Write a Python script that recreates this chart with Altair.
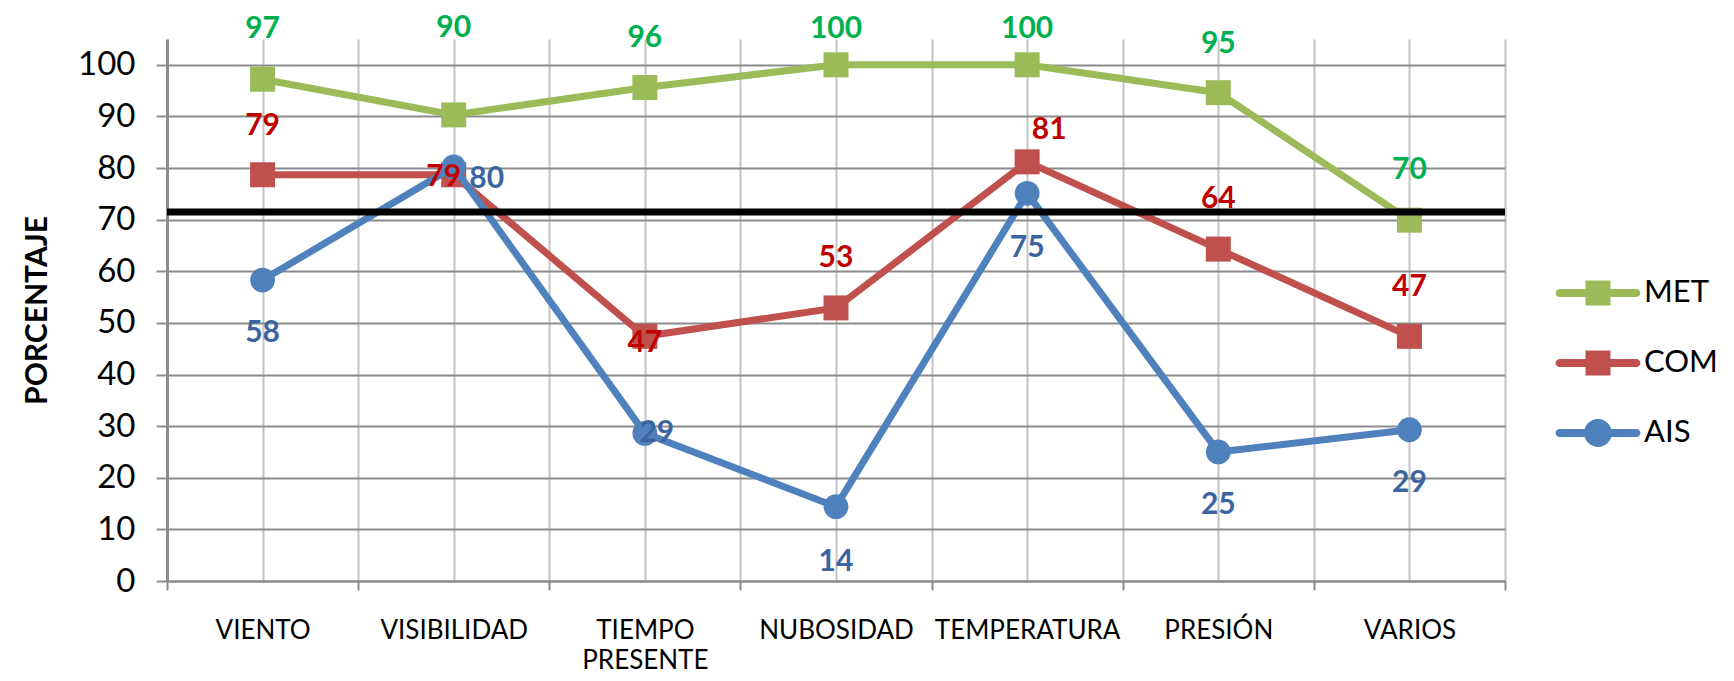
import json
import altair as alt
import pandas as pd

# ---------------- data ----------------
categories = ["VIENTO", "VISIBILIDAD", "TIEMPO PRESENTE", "NUBOSIDAD",
              "TEMPERATURA", "PRESIÓN", "VARIOS"]
series_names = ["MET", "COM", "AIS"]
met = [97.2, 90.3, 95.6, 100.0, 100.0, 94.6, 69.9]
com = [78.7, 78.7, 47.4, 52.9, 81.2, 64.3, 47.4]
ais = [58.3, 80.2, 28.6, 14.4, 75.1, 25.0, 29.3]
threshold = [71.5]
y_ticks = list(range(0, 101, 10))

# label offsets (pixels, relative to each marker)
met_dx = [0, 0, 0, 0, 0, 0, 0]
met_dy = [-50, -87, -50, -36, -36, -49, -50]
com_dx = [0, -10, 0, 0, 22, 0, 0]
com_dy = [-49, 2, 7, -50, -32, -50, -49]
ais_dx = [0, 33, 12, 0, 0, 0, 0]
ais_dy = [53, 12, 0, 55, 55, 53, 53]

# ---------------- style ----------------
line_colors = ["#9BBB59", "#C0504D", "#4F81BD"]
label_colors = ["#00B050", "#C00000", "#3B64A0"]
marker_shapes = ["square", "square", "circle"]
marker_sizes = [625, 625, 615]
FONT = "Lato"

bar = "M-1.6,-0.167 H1.6 A0.167,0.167 0 0,1 1.6,0.167 H-1.6 A0.167,0.167 0 0,1 -1.6,-0.167 Z"
sq = "M-0.52,-0.52 H0.52 V0.52 H-0.52 Z"
circ = "M-0.58,0 A0.58,0.58 0 1,1 0.58,0 A0.58,0.58 0 1,1 -0.58,0 Z"
legend_paths = [bar + " " + sq, bar + " " + sq, bar + " " + circ]

rows = []
for s, vals, dxs, dys in [("MET", met, met_dx, met_dy),
                          ("COM", com, com_dx, com_dy),
                          ("AIS", ais, ais_dx, ais_dy)]:
    for i, (c, v) in enumerate(zip(categories, vals)):
        rows.append({"idx": i, "cat": c, "series": s, "value": v,
                     "dx": dxs[i], "dy": dys[i]})
df = pd.DataFrame(rows)

label_lines = [c.split(" ") if " " in c else c for c in categories]
label_expr = ("datum.value % 1 === 0 ? " + json.dumps(label_lines, ensure_ascii=False)
              + "[datum.value] : ''")

x_values = [-0.5 + 0.5 * i for i in range(15)]

x_enc = alt.X(
    "idx:Q",
    scale=alt.Scale(domain=[-0.5, 6.5], nice=False, zero=False),
    axis=alt.Axis(
        values=x_values, grid=True, gridColor="#C4C4C4", gridWidth=2,
        domain=True, domainColor="#8C8C8C", domainWidth=2,
        ticks=True, tickSize=9, tickWidth=2, tickColor="#8C8C8C",
        tickOpacity={"condition": {"test": "datum.value % 1 !== 0", "value": 1}, "value": 0},
        labelExpr=label_expr, labelFont=FONT, labelFontSize=26, labelColor="black",
        labelPadding=27, labelLineHeight=30, labelOverlap=False, labelFlush=False,
        labelBound=False, labelLimit=0, title=None,
    ),
)
y_scale = alt.Scale(domain=[0, 105], nice=False, zero=True)
y_enc = alt.Y(
    "value:Q",
    scale=y_scale,
    axis=alt.Axis(
        values=y_ticks, grid=True, gridColor="#8C8C8C", gridWidth=2,
        domainColor="#8C8C8C", domainWidth=3,
        tickColor="#8C8C8C", tickSize=11, tickWidth=2,
        labelFont=FONT, labelFontSize=33, labelColor="black", labelPadding=21,
        title="PORCENTAJE", titleFont=FONT, titleFontSize=30, titleFontWeight="bold",
        titleColor="black", titleX=-130, titleY=271, titleAngle=270,
        titleAlign="center", titleBaseline="middle",
    ),
)

base = alt.Chart(df).encode(x=x_enc, y=y_enc)

layers = []
for s, lc, shp, sz in zip(series_names, line_colors, marker_shapes, marker_sizes):
    sub = base.transform_filter(alt.datum.series == s)
    layers.append(sub.mark_line(color=lc, strokeWidth=7))
    layers.append(sub.mark_point(filled=True, shape=shp, size=sz, color=lc, opacity=1))

for s, tc in zip(series_names, label_colors):
    sdf = df[df.series == s]
    pairs = sorted(set(zip(sdf.dx, sdf.dy)))
    for dx, dy in pairs:
        layers.append(
            base.transform_filter(
                (alt.datum.series == s) & (alt.datum.dx == int(dx)) & (alt.datum.dy == int(dy))
            ).mark_text(dx=int(dx), dy=int(dy), font=FONT, fontSize=30, fontWeight="bold",
                        color=tc, baseline="middle", align="center")
            .encode(text=alt.Text("value:Q", format=".0f"))
        )

leg = alt.Legend(orient="none", legendX=1407, legendY=230, title=None,
                 symbolSize=2304, symbolStrokeWidth=0, symbolOpacity=1,
                 labelFont=FONT, labelFontSize=31, labelColor="black",
                 labelOffset=22, rowPadding=31, padding=0)
layers.append(
    base.mark_point(filled=True, opacity=0).encode(
        color=alt.Color("series:N", scale=alt.Scale(domain=series_names, range=line_colors), legend=leg),
        shape=alt.Shape("series:N", scale=alt.Scale(domain=series_names, range=legend_paths), legend=leg),
    )
)

rule = alt.Chart(pd.DataFrame({"value": threshold})).mark_rule(
    color="black", strokeWidth=7
).encode(y=y_enc)
layers.append(rule)

chart = alt.layer(*layers).properties(
    width=1338, height=542,
    autosize=alt.AutoSizeParams(type="none"),
    padding={"left": 159, "top": 31, "right": 215, "bottom": 92},
    background="white",
).configure_view(stroke=None)

chart.save("out.html", embed_options={"renderer": "svg", "actions": False})
